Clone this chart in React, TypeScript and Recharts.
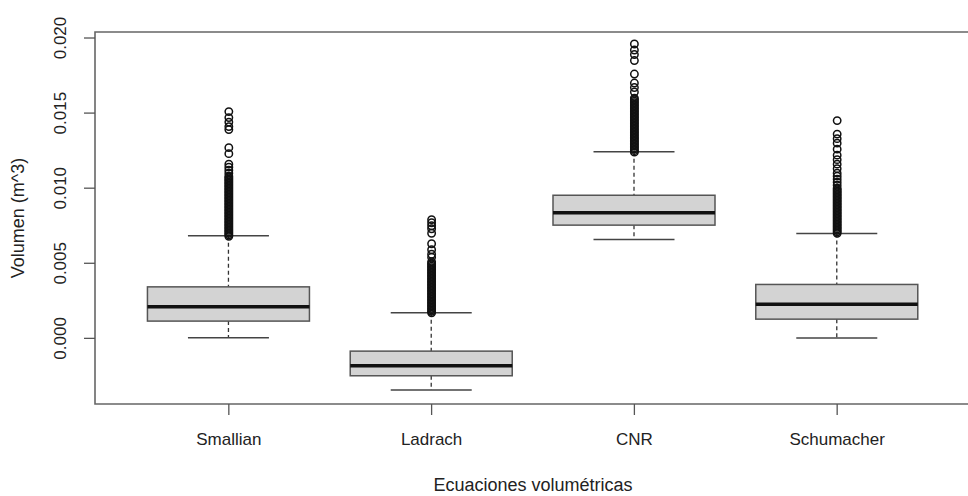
import { ComposedChart, Bar, Scatter, XAxis, YAxis, ReferenceArea } from 'recharts';

const categories = ['Smallian', 'Ladrach', 'CNR', 'Schumacher'];
const lower = [0.00004, -0.00344, 0.00659, 0.00002];
const q1 = [0.00115, -0.00249, 0.00754, 0.00128];
const median = [0.0021, -0.00182, 0.00836, 0.00228];
const q3 = [0.00343, -0.00085, 0.00953, 0.00359];
const upper = [0.00683, 0.0017, 0.01242, 0.00699];

const yTicks = [0, 0.005, 0.01, 0.015, 0.02];

const smallianOut = [
  0.0068, 0.0069, 0.007, 0.0071, 0.0072, 0.0073, 0.0074, 0.0075, 0.0076, 0.0077, 0.0078, 0.0079, 0.008, 0.0081,
  0.0082, 0.0083, 0.0084, 0.0085, 0.0086, 0.0087, 0.0088, 0.0089, 0.009, 0.0091, 0.0092, 0.0093, 0.0094, 0.0095,
  0.0096, 0.0097, 0.0098, 0.0099, 0.01, 0.0101, 0.0102, 0.0103, 0.0104, 0.0105, 0.0106, 0.0107, 0.0108,
  0.011, 0.0112, 0.0114, 0.0116, 0.0123, 0.0127, 0.0139, 0.0141, 0.0144, 0.0147, 0.0151,
];
const ladrachOut = [
  0.0017, 0.0018, 0.0019, 0.002, 0.0021, 0.0022, 0.0023, 0.0024, 0.0025, 0.0026, 0.0027, 0.0028, 0.0029, 0.003,
  0.0031, 0.0032, 0.0033, 0.0034, 0.0035, 0.0036, 0.0037, 0.0038, 0.0039, 0.004, 0.0041, 0.0042, 0.0043, 0.0044,
  0.0045, 0.0046, 0.0047, 0.0048, 0.0049, 0.005, 0.0051,
  0.0054, 0.0056, 0.0059, 0.0063, 0.007, 0.0073, 0.0075, 0.0077, 0.0079,
];
const cnrOut = [
  0.0124, 0.0125, 0.0126, 0.0127, 0.0128, 0.0129, 0.013, 0.0131, 0.0132, 0.0133, 0.0134, 0.0135, 0.0136, 0.0137,
  0.0138, 0.0139, 0.014, 0.0141, 0.0142, 0.0143, 0.0144, 0.0145, 0.0146, 0.0147, 0.0148, 0.0149, 0.015, 0.0151,
  0.0152, 0.0153, 0.0154, 0.0155, 0.0156, 0.0157, 0.0158, 0.0159, 0.016,
  0.0164, 0.0167, 0.017, 0.0176, 0.0185, 0.0189, 0.0192, 0.0196,
];
const schumacherOut = [
  0.007, 0.0071, 0.0072, 0.0073, 0.0074, 0.0075, 0.0076, 0.0077, 0.0078, 0.0079, 0.008, 0.0081, 0.0082, 0.0083,
  0.0084, 0.0085, 0.0086, 0.0087, 0.0088, 0.0089, 0.009, 0.0091, 0.0092, 0.0093, 0.0094, 0.0095, 0.0096, 0.0097,
  0.0098, 0.0099, 0.01,
  0.0102, 0.0104, 0.0106, 0.0108, 0.011, 0.0113, 0.0116, 0.0119, 0.0122, 0.0126, 0.013, 0.0133, 0.0136, 0.0145,
];
const outliers = [smallianOut, ladrachOut, cnrOut, schumacherOut];

// R-style axis extents (4% padding around 0.5..4.5 and the data range)
const X_MIN = 0.34;
const X_MAX = 4.66;
const Y_MIN = -0.00437;
const Y_MAX = 0.0204;

const font = '"Liberation Sans", Arial, sans-serif';
const ink = '#222';

const boxData = categories.map((name, i) => ({
  pos: i + 1,
  name,
  box: [q1[i], q3[i]],
  lo: lower[i],
  med: median[i],
  hi: upper[i],
}));

const outlierData = outliers.flatMap((vals, i) => vals.map((v) => ({ pos: i + 1, v })));

function BoxShape(props: any) {
  const { x, y, width, height, payload } = props;
  const [a, b] = payload.box;
  const top = Math.min(y, y + height);
  const h = Math.abs(height);
  const k = h / (b - a);
  const py = (v: number) => top + (b - v) * k;
  const cx = x + width / 2;
  const cap = width / 4;
  return (
    <g>
      <line x1={cx} x2={cx} y1={py(payload.hi)} y2={py(b)} stroke="#333" strokeWidth={1.3} strokeDasharray="4 3" />
      <line x1={cx} x2={cx} y1={py(a)} y2={py(payload.lo)} stroke="#333" strokeWidth={1.3} strokeDasharray="4 3" />
      <line x1={cx - cap} x2={cx + cap} y1={py(payload.hi)} y2={py(payload.hi)} stroke="#444" strokeWidth={1.5} />
      <line x1={cx - cap} x2={cx + cap} y1={py(payload.lo)} y2={py(payload.lo)} stroke="#444" strokeWidth={1.5} />
      <rect x={x} y={top} width={width} height={h} fill="#d3d3d3" stroke="#555" strokeWidth={1.5} />
      <line x1={x} x2={x + width} y1={py(payload.med)} y2={py(payload.med)} stroke="#111" strokeWidth={3.5} />
    </g>
  );
}

function Ring(props: any) {
  return <circle cx={props.cx} cy={props.cy} r={3.7} fill="none" stroke="#111" strokeWidth={1.5} />;
}

function XTick(props: any) {
  const { x, y, payload } = props;
  return (
    <text x={x} y={y} textAnchor="middle" fontSize={17} fontFamily={font} fill={ink}>
      {categories[payload.value - 1]}
    </text>
  );
}

function YTick(props: any) {
  const { x, y, payload } = props;
  return (
    <text x={x} y={y} transform={`rotate(-90, ${x}, ${y})`} textAnchor="middle" fontSize={17} fontFamily={font} fill={ink}>
      {payload.value.toFixed(3)}
    </text>
  );
}

function YTitle(props: any) {
  const vb = props.viewBox;
  const x = vb.x + 24;
  const y = vb.y + vb.height / 2;
  return (
    <text x={x} y={y} transform={`rotate(-90, ${x}, ${y})`} textAnchor="middle" fontSize={18} fontFamily={font} fill={ink}>
      Volumen (m^3)
    </text>
  );
}

function XTitle(props: any) {
  const vb = props.viewBox;
  return (
    <text x={vb.x + vb.width / 2} y={vb.y + 87} textAnchor="middle" fontSize={18} fontFamily={font} fill={ink}>
      Ecuaciones volumétricas
    </text>
  );
}

export default function App() {
  return (
    <div style={{ position: 'absolute', left: 0, top: 0, width: 968, height: 496, background: '#fff' }}>
      <ComposedChart width={968} height={496} data={boxData} margin={{ top: 32, right: -3, bottom: 0, left: 0 }}>
        <XAxis
          dataKey="pos"
          type="number"
          domain={[X_MIN, X_MAX]}
          ticks={[1, 2, 3, 4]}
          allowDataOverflow
          height={92}
          axisLine={false}
          tickSize={11}
          tickMargin={30}
          tickLine={{ stroke: '#555', strokeWidth: 1.3 }}
          tick={<XTick />}
          label={{ content: <XTitle /> }}
        />
        <YAxis
          type="number"
          domain={[Y_MIN, Y_MAX]}
          ticks={yTicks}
          allowDataOverflow
          width={95}
          axisLine={false}
          tickSize={11}
          tickMargin={18}
          tickLine={{ stroke: '#555', strokeWidth: 1.3 }}
          tick={<YTick />}
          label={{ content: <YTitle /> }}
        />
        <ReferenceArea x1={X_MIN} x2={X_MAX} y1={Y_MIN} y2={Y_MAX} fill="none" stroke="#666" strokeWidth={1.6} ifOverflow="visible" />
        <Bar dataKey="box" barSize={162} shape={<BoxShape />} isAnimationActive={false} />
        <Scatter data={outlierData} dataKey="v" shape={<Ring />} isAnimationActive={false} />
      </ComposedChart>
    </div>
  );
}
